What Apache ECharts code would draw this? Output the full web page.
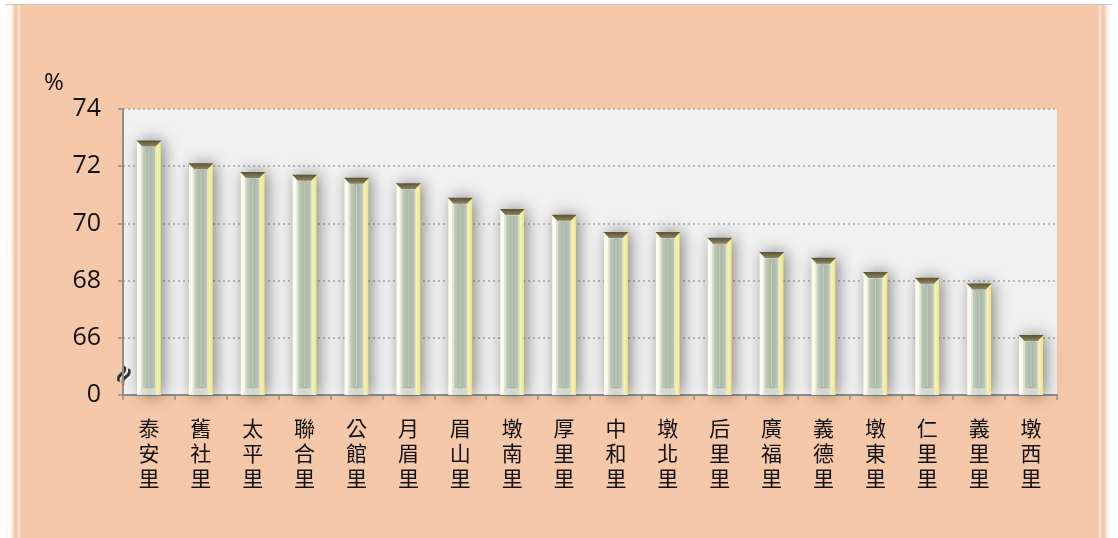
<!DOCTYPE html>
<html>
<head>
<meta charset="utf-8">
<script src="https://cdn.jsdelivr.net/npm/echarts@6/dist/echarts.min.js"></script>
<style>
html,body{margin:0;padding:0;background:#fff;}
#frame{position:absolute;left:5px;top:4px;width:1108px;height:534px;border-top:1px solid #c9c9c9;
background:
 linear-gradient(to right, rgba(255,255,255,0.95) 0px, rgba(255,255,255,0.9) 6px, rgba(255,255,255,0) 10px, rgba(255,255,255,0) 12px, rgba(255,255,255,0.55) 14px, rgba(255,255,255,0) 16px),
 linear-gradient(to left, rgba(255,255,255,0.95) 0px, rgba(255,255,255,0.9) 5px, rgba(255,255,255,0) 9px, rgba(255,255,255,0) 11px, rgba(255,255,255,0.55) 13px, rgba(255,255,255,0) 15px),
 #f5c8a9;}
#chart{position:absolute;left:0;top:0;width:1118px;height:538px;}
</style>
</head>
<body>
<div id="frame"></div>
<div id="chart"></div>
<script>
const categories = ['泰安里','舊社里','太平里','聯合里','公館里','月眉里','眉山里','墩南里','厚里里','中和里','墩北里','后里里','廣福里','義德里','墩東里','仁里里','義里里','墩西里'];
const values = [72.9, 72.1, 71.8, 71.7, 71.6, 71.4, 70.9, 70.5, 70.3, 69.7, 69.7, 69.5, 69.0, 68.8, 68.3, 68.1, 67.9, 66.1];
const axisBase = 64;          // broken axis: 64 is shown as "0"
const yTicks = [64, 66, 68, 70, 72, 74];

const chart = echarts.init(document.getElementById('chart'), null, {renderer:'canvas'});

function renderBar(params, api) {
  const idx = api.value(0);
  const val = api.value(1);
  const top = api.coord([idx, val]);
  const base = api.coord([idx, axisBase]);
  const size = api.size([1, 0]);
  const w = size[0] * 0.46;
  const x0 = top[0] - w / 2, x1 = top[0] + w / 2;
  const yT = top[1], yB = base[1];
  const h = yB - yT;
  const capH = 6;
  const ins = w * 0.22;
  return {
    type: 'group',
    children: [
      {
        type: 'rect',
        shape: {x: x0, y: yT, width: w, height: h},
        style: {
          fill: new echarts.graphic.LinearGradient(0, 0, 1, 0, [
            {offset: 0, color: '#fffff6'},
            {offset: 0.14, color: '#fbfbe4'},
            {offset: 0.22, color: '#c4cdbf'},
            {offset: 0.5, color: '#a9b6a4'},
            {offset: 0.76, color: '#bcc6b7'},
            {offset: 0.84, color: '#f7f3b4'},
            {offset: 1, color: '#ede47a'}
          ]),
          shadowBlur: 16,
          shadowColor: 'rgba(0,0,0,0.45)',
          shadowOffsetX: 3
        }
      },
      {
        type: 'rect',
        shape: {x: x0 + ins, y: yT + capH, width: w - 2 * ins, height: h - capH - 6},
        style: {fill: 'none', stroke: 'rgba(235,240,230,0.7)', lineWidth: 1}
      },
      {
        type: 'line',
        shape: {x1: top[0], y1: yT + capH + 2, x2: top[0], y2: yB - 8},
        style: {stroke: 'rgba(220,228,215,0.55)', lineWidth: 1}
      },
      {
        type: 'polygon',
        shape: {points: [[x0, yB], [x1, yB], [x1 - ins, yB - 6], [x0 + ins, yB - 6]]},
        style: {fill: 'rgba(230,235,225,0.6)'}
      },
      {
        type: 'polygon',
        shape: {points: [[x0 - 0.5, yT], [x1 + 0.5, yT], [x1 - ins, yT + capH], [x0 + ins, yT + capH]]},
        style: {
          fill: new echarts.graphic.LinearGradient(0, 0, 0, 1, [
            {offset: 0, color: '#5a5234'},
            {offset: 1, color: '#8d8662'}
          ])
        }
      }
    ]
  };
}

const option = {
  backgroundColor: 'transparent',
  animation: false,
  grid: {left: 123, right: 61, top: 109, bottom: 143, show: true, backgroundColor: '#f1f1f1', borderWidth: 0},
  xAxis: {
    type: 'category',
    data: categories,
    boundaryGap: true,
    axisLine: {lineStyle: {color: '#8e8e8e', width: 2}},
    axisTick: {show: true, length: 5, lineStyle: {color: '#8e8e8e', width: 1.5}},
    axisLabel: {
      interval: 0,
      margin: 21,
      color: '#111',
      fontFamily: '"Noto Sans CJK TC", "Noto Sans CJK SC", sans-serif',
      fontSize: 21,
      lineHeight: 25,
      formatter: v => v.split('').join('\n')
    },
    splitLine: {show: false}
  },
  yAxis: {
    type: 'value',
    min: axisBase,
    max: 74,
    interval: 2,
    axisLine: {show: true, lineStyle: {color: '#8e8e8e', width: 2}},
    axisTick: {show: true, length: 5, lineStyle: {color: '#8e8e8e', width: 1.5}},
    axisLabel: {
      margin: 22,
      color: '#111',
      fontFamily: '"Open Sans", "Liberation Sans", sans-serif',
      fontSize: 25,
      formatter: v => (v === axisBase ? '0' : String(v))
    },
    splitLine: {show: true, lineStyle: {color: '#a8a8a8', type: [2, 3], width: 1.5}}
  },
  graphic: [
    {type: 'text', left: 44, top: 71, style: {text: '%', fontSize: 24, fill: '#111', fontFamily: '"Open Sans", "Liberation Sans", sans-serif'}},
    {type: 'text', x: 125, y: 376, rotation: Math.PI / 3, originX: 0, originY: 0,
     style: {text: '≈', fontSize: 26, fontWeight: 'bold', fill: '#333', align: 'center', verticalAlign: 'middle', fontFamily: '"DejaVu Sans", sans-serif'}}
  ],
  series: [{
    type: 'custom',
    renderItem: renderBar,
    encode: {x: 0, y: 1},
    data: values.map((v, i) => [i, v]),
    clip: false,
    z: 3
  }]
};
chart.setOption(option);
</script>
</body>
</html>
